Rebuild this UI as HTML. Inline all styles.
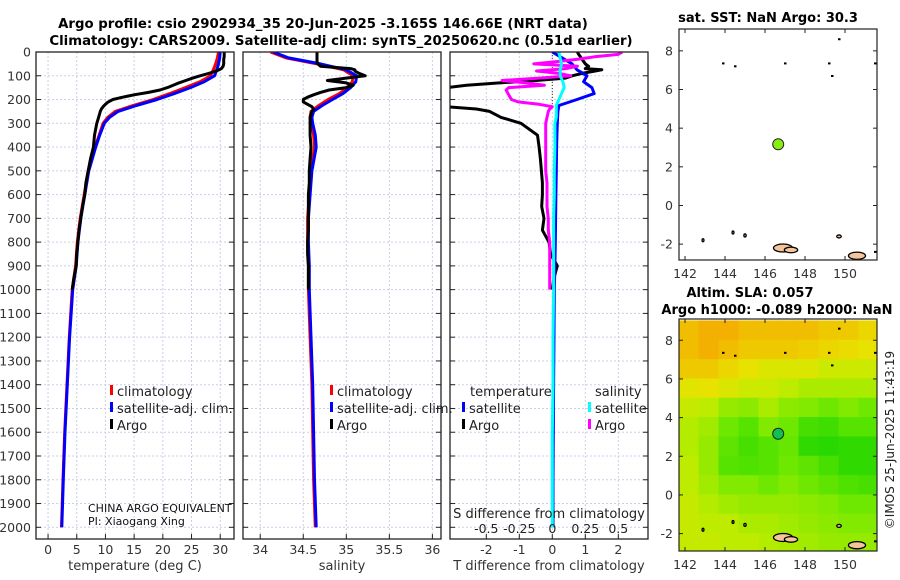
<!DOCTYPE html>
<html><head><meta charset="utf-8"><style>
html,body{margin:0;padding:0;background:#fff;}
svg{display:block;font-family:"DejaVu Sans","Liberation Sans",sans-serif;}
</style></head><body>
<svg id="fig" width="900" height="580" viewBox="0 0 900 580" xmlns="http://www.w3.org/2000/svg">
<text x="323" y="28" text-anchor="middle" font-size="13.3" font-weight="bold">Argo profile: csio 2902934_35 20-Jun-2025 -3.165S 146.66E (NRT data)</text>
<text x="341" y="45" text-anchor="middle" font-size="13.3" font-weight="bold">Climatology: CARS2009. Satellite-adj clim: synTS_20250620.nc (0.51d earlier)</text>
<text x="768" y="22" text-anchor="middle" font-size="13" font-weight="bold">sat. SST: NaN Argo: 30.3</text>
<text x="750" y="297" text-anchor="middle" font-size="13" font-weight="bold">Altim. SLA: 0.057</text>
<text x="777" y="314" text-anchor="middle" font-size="13" font-weight="bold">Argo h1000: -0.089 h2000: NaN</text>
<text transform="translate(894,440) rotate(-90)" text-anchor="middle" font-size="12" fill="#222">©IMOS 25-Jun-2025 11:43:19</text>
<g id="g"></g>
</svg>
<script>
// ---- data ----
const depthsClim = [0,25,50,75,100,125,150,175,200,225,250,275,300,350,400,500,600,700,800,900,1000,1200,1400,1600,1800,2000];
const tempClim   = [29.7,29.5,29.2,28.8,28.3,26.5,23.9,21.2,18.3,14.8,11.7,10.4,9.6,8.9,8.2,7.0,6.3,5.6,5.1,4.8,4.2,3.7,3.3,2.9,2.6,2.35];
const tempSat    = [30.0,29.9,29.7,29.4,29.0,27.2,24.8,22.0,19.0,15.4,12.2,10.7,9.8,9.0,8.3,7.1,6.4,5.7,5.2,4.9,4.3,3.75,3.35,2.95,2.65,2.4];
const depthsArgo = [0,10,20,30,40,50,60,70,75,80,90,100,110,120,130,140,150,160,170,180,190,200,210,220,230,240,250,275,300,350,400,450,500,550,600,650,700,750,800,850,900,950,1000];
const tempArgo   = [30.7,30.7,30.7,30.6,30.6,30.6,30.5,30.2,29.8,29.3,28.0,26.5,25.2,24.0,22.8,21.8,20.8,19.5,17.5,15.0,13.0,11.3,10.5,10.0,9.6,9.3,9.1,8.8,8.5,8.1,7.9,7.4,7.0,6.6,6.4,6.0,5.7,5.4,5.2,5.0,4.9,4.5,4.2];
const salClim    = [34.12,34.3,34.66,34.97,35.08,35.07,35.01,34.92,34.79,34.68,34.59,34.58,34.6,34.62,34.63,34.59,34.57,34.55,34.55,34.56,34.56,34.58,34.6,34.61,34.62,34.64];
const salSat     = [34.15,34.33,34.7,35.0,35.12,35.11,35.05,34.96,34.84,34.72,34.62,34.6,34.61,34.64,34.65,34.6,34.58,34.56,34.56,34.57,34.57,34.59,34.61,34.62,34.63,34.65];
const salArgo    = [34.66,34.66,34.66,34.66,34.66,34.67,34.7,35.05,35.1,35.1,35.15,35.22,35.0,34.78,35.0,35.08,35.0,34.8,34.7,34.62,34.55,34.5,34.5,34.55,34.6,34.62,34.6,34.58,34.58,34.58,34.59,34.58,34.57,34.57,34.56,34.56,34.56,34.56,34.55,34.55,34.56,34.56,34.56];
const dTArgo     = [0.76,0.8,0.85,0.9,0.95,1.0,1.1,1.0,1.5,1.3,0.9,0.6,0.4,-0.5,-1.6,-2.6,-3.2,-3.5,-3.5,-3.5,-3.5,-3.5,-3.5,-3.5,-3.2,-2.3,-1.9,-1.55,-0.95,-0.45,-0.4,-0.36,-0.33,-0.3,-0.3,-0.32,-0.25,-0.3,-0.1,-0.05,0.15,0.05,0.0];
const dSArgo     = [0.53,0.5,0.32,0.2,0.04,-0.14,0.19,0.1,0.0,-0.12,0.05,0.14,-0.1,-0.38,-0.2,-0.06,-0.33,-0.35,-0.34,-0.33,-0.32,-0.31,-0.26,-0.1,0.0,-0.02,-0.03,-0.04,-0.05,-0.05,-0.05,-0.05,-0.05,-0.04,-0.04,-0.04,-0.03,-0.03,-0.02,-0.02,-0.02,-0.02,-0.02];
const dTSat      = [0.0,0.3,0.6,0.75,1.05,0.95,1.2,1.27,0.75,0.2,0.17,0.16,0.15,0.14,0.13,0.12,0.11,0.1,0.09,0.08,0.06,0.05,0.04,0.03,0.02,0.02];
const dSSat      = [0.05,0.06,0.07,0.06,0.06,0.08,0.09,0.07,0.05,0.03,0.03,0.03,0.02,0.02,0.02,0.015,0.015,0.01,0.01,0.01,0.01,0.005,0.005,0.0,0.0,0.0];
const depthTicks = [0,100,200,300,400,500,600,700,800,900,1000,1100,1200,1300,1400,1500,1600,1700,1800,1900,2000];
const tempTicks = [0,5,10,15,20,25,30];
const salTicks = [34,34.5,35,35.5,36];
const salTickLabels = ["34","34.5","35","35.5","36"];
const dTTicks = [-2,-1,0,1,2];
const dSTicks = [-0.5,-0.25,0,0.25,0.5];
const dSTickLabels = ["-0.5","-0.25","0","0.25","0.5"];
const lonTicks = [142,144,146,148,150];
const latTicks = [-2,0,2,4,6,8];
const argoLon = 146.66, argoLat = 3.165;
const slaGrid = [
[0.2,0.22,0.22,0.2,0.2,0.2,0.2,0.18,0.18,0.16],
[0.2,0.22,0.2,0.18,0.18,0.18,0.17,0.16,0.15,0.14],
[0.18,0.18,0.16,0.14,0.12,0.12,0.12,0.1,0.1,0.1],
[0.13,0.14,0.12,0.1,0.1,0.08,0.06,0.06,0.06,0.06],
[0.09,0.08,0.04,0.03,0.06,0.03,0.02,0.0,0.02,0.0],
[0.07,0.05,0.0,-0.03,0.02,0.0,-0.05,-0.06,-0.03,-0.03],
[0.07,0.04,-0.02,-0.05,-0.03,-0.01,-0.08,-0.09,-0.08,-0.08],
[0.08,0.04,-0.03,-0.04,-0.03,0.0,-0.02,-0.05,-0.08,-0.08],
[0.08,0.05,0.02,0.02,0.0,0.02,0.0,-0.02,-0.04,-0.05],
[0.09,0.07,0.05,0.04,0.04,0.04,0.03,0.02,0.0,0.0],
[0.09,0.08,0.08,0.06,0.06,0.05,0.04,0.03,0.02,0.02],
[0.09,0.09,0.08,0.08,0.07,0.06,0.05,0.04,0.04,0.04]];
const islandsLon = [146.9,147.3,150.6,149.7,145.0,142.9,144.4];
const islandsLat = [-2.2,-2.3,-2.6,-1.6,-1.55,-1.8,-1.4];
const islandsR   = [0.5,0.35,0.45,0.12,0.06,0.05,0.05];
const reefLon = [143.9,144.5,147.0,149.2,149.35,149.7,151.5,151.5];
const reefLat = [7.35,7.2,7.35,7.35,6.7,8.6,7.35,-2.4];

// ---- helpers ----
const NS="http://www.w3.org/2000/svg";
const G=document.getElementById('g');
function el(tag,attrs,parent){const e=document.createElementNS(NS,tag);for(const k in attrs)e.setAttribute(k,attrs[k]);(parent||G).appendChild(e);return e;}
const yTop=52, yBot=539;
const yD=d=>yTop+d*0.23765;
function panel(x0,x1,xmin,xmax,name){
  const sx=v=>x0+(v-xmin)/(xmax-xmin)*(x1-x0);
  const g=el('g',{});
  
  
  return {sx,g,x0,x1};
}
function grid(p,xt){
  depthTicks.forEach(d=>{const l=el('line',{x1:p.x0,x2:p.x1,y1:yD(d),y2:yD(d),stroke:'#c9cfe9','stroke-width':1,'stroke-dasharray':'2,2'},p.g);
    });
  xt.forEach(v=>{const l=el('line',{x1:p.sx(v),x2:p.sx(v),y1:yTop,y2:yBot,stroke:'#c9cfe9','stroke-width':1,'stroke-dasharray':'2,2'},p.g);
    });
}
function frame(p,xt,labels,xlabel){
  const r=el('rect',{x:p.x0,y:yTop,width:p.x1-p.x0,height:yBot-yTop,fill:'none',stroke:'#222','stroke-width':1.3},p.g);
  
  depthTicks.forEach(d=>{el('line',{x1:p.x0,x2:p.x0+5,y1:yD(d),y2:yD(d),stroke:'#222'},p.g);el('line',{x1:p.x1-5,x2:p.x1,y1:yD(d),y2:yD(d),stroke:'#222'},p.g);});
  xt.forEach((v,i)=>{el('line',{x1:p.sx(v),x2:p.sx(v),y1:yBot-5,y2:yBot,stroke:'#222'},p.g);
    const t=el('text',{x:p.sx(v),y:yBot+15,'text-anchor':'middle','font-size':12.5,fill:'#333'},p.g);t.textContent=labels[i];
    });
  const t=el('text',{x:(p.x0+p.x1)/2,y:570,'text-anchor':'middle','font-size':13,fill:'#333'},p.g);t.textContent=xlabel;
  
}
function line(p,ds,vals,color,w,name,clipId){
  const pts=ds.map((d,i)=>p.sx(vals[i]).toFixed(1)+','+yD(d).toFixed(1)).join(' ');
  const l=el('polyline',{points:pts,fill:'none',stroke:color,'stroke-width':w,'stroke-linejoin':'round','clip-path':'url(#'+clipId+')'},p.g);
  
}
function clip(id,p){const c=el('clipPath',{id:id});el('rect',{x:p.x0,y:yTop,width:p.x1-p.x0,height:yBot-yTop},c);}
function legendEntry(x,y,color,label,g){
  el('rect',{x:x,y:y-11,width:3,height:10,fill:color},g);
  const t=el('text',{x:x+7,y:y,'font-size':13,fill:'#222'},g);t.textContent=label;
  
}

depthTicks.forEach(d=>{const t=el('text',{x:31,y:yD(d)+4.5,'text-anchor':'end','font-size':12.5,fill:'#333'});t.textContent=d;
  });

const p1=panel(36,234,-2.1,32.4,'temperature-panel');
clip('c1',p1);grid(p1,tempTicks);
line(p1,depthsClim,tempClim,'#f00',3,'climatology-temp-line','c1');
line(p1,depthsClim,tempSat,'#00f',3,'satellite-temp-line','c1');
line(p1,depthsArgo,tempArgo,'#000',3,'argo-temp-line','c1');
frame(p1,tempTicks,tempTicks.map(String),'temperature (deg C)');
legendEntry(110,396,'#f00','climatology',p1.g);legendEntry(110,413,'#00f','satellite-adj. clim.',p1.g);legendEntry(110,430,'#000','Argo',p1.g);
let t=el('text',{x:88,y:512,'font-size':11,fill:'#111'},p1.g);t.textContent='CHINA ARGO EQUIVALENT';
t=el('text',{x:88,y:525,'font-size':11,fill:'#111'},p1.g);t.textContent='PI: Xiaogang Xing';

const p2=panel(243,441,33.8,36.1,'salinity-panel');
clip('c2',p2);grid(p2,salTicks);
line(p2,depthsClim,salClim,'#f00',3,'climatology-sal-line','c2');
line(p2,depthsClim,salSat,'#00f',3,'satellite-sal-line','c2');
line(p2,depthsArgo,salArgo,'#000',3,'argo-sal-line','c2');
frame(p2,salTicks,salTickLabels,'salinity');
legendEntry(330,396,'#f00','climatology',p2.g);legendEntry(330,413,'#00f','satellite-adj. clim.',p2.g);legendEntry(330,430,'#000','Argo',p2.g);

const p3=panel(450,648,-3.1,2.9,'difference-panel');
clip('c3',p3);grid(p3,dTTicks);
const p3s={sx:v=>p3.sx(v*4),g:p3.g,x0:p3.x0,x1:p3.x1};
el('line',{x1:p3.sx(0),x2:p3.sx(0),y1:yTop,y2:yD(220),stroke:'#333','stroke-dasharray':'1,2'},p3.g);
line(p3,depthsArgo,dTArgo,'#000',3,'argo-temp-diff-line','c3');
line(p3,depthsClim,dTSat,'#00f',3,'satellite-temp-diff-line','c3');
line(p3s,depthsArgo,dSArgo,'#f0f',3,'argo-sal-diff-line','c3');
line(p3s,depthsClim,dSSat,'#0ff',3,'satellite-sal-diff-line','c3');
frame(p3,dTTicks,dTTicks.map(String),'T difference from climatology');
t=el('text',{x:470,y:396,'font-size':13,fill:'#222'},p3.g);t.textContent='temperature';
t=el('text',{x:595,y:396,'font-size':13,fill:'#222'},p3.g);t.textContent='salinity';
legendEntry(462,413,'#00f','satellite',p3.g);legendEntry(462,430,'#000','Argo',p3.g);
legendEntry(588,413,'#0ff','satellite',p3.g);legendEntry(588,430,'#f0f','Argo',p3.g);
t=el('text',{x:549,y:518,'text-anchor':'middle','font-size':13,fill:'#222'},p3.g);t.textContent='S difference from climatology';
dSTicks.forEach((v,i)=>{const tt=el('text',{x:p3s.sx(v),y:533,'text-anchor':'middle','font-size':12.5,fill:'#222'},p3.g);tt.textContent=dSTickLabels[i];
  });

function map(y0,y1,latTop,latBot,name,heat){
  const x0=679,x1=877,lonMin=141.7,lonMax=151.6;
  const sx=v=>x0+(v-lonMin)/(lonMax-lonMin)*(x1-x0);
  const sy=v=>y0+(latTop-v)/(latTop-latBot)*(y1-y0);
  const g=el('g',{});
  const cid='cm'+y0;const c=el('clipPath',{id:cid});el('rect',{x:x0,y:y0,width:x1-x0,height:y1-y0},c);
  const inner=el('g',{'clip-path':'url(#'+cid+')'},g);
  if(heat){
    const cols=[[-0.1,[32,214,0]],[0.0,[110,232,0]],[0.08,[190,236,0]],[0.14,[232,226,0]],[0.22,[244,176,0]]];
    const col=v=>{for(let i=0;i<cols.length-1;i++){const a=cols[i],b=cols[i+1];if(v<=b[0]||i==cols.length-2){let f=Math.max(0,Math.min(1,(v-a[0])/(b[0]-a[0])));return 'rgb('+a[1].map((c,k)=>Math.round(c+f*(b[1][k]-c))).join(',')+')';}}};
    slaGrid.forEach((row,r)=>row.forEach((v,ci)=>{
      const cell=el('rect',{x:sx(lonMin+ci)-0.5,y:sy(9-r)-0.5,width:sx(lonMin+ci+1)-sx(lonMin+ci)+1,height:sy(8-r)-sy(9-r)+1,fill:col(v)},inner);
      
    }));
  }
  reefLon.forEach((lo,i)=>{const d=el('rect',{x:sx(lo)-1,y:sy(reefLat[i])-1,width:2.5,height:2,fill:'#000'},inner);
    });
  islandsLon.forEach((lo,i)=>{const s=el('ellipse',{cx:sx(lo),cy:sy(islandsLat[i]),rx:islandsR[i]*19,ry:Math.max(1.5,islandsR[i]*8),fill:'#f5c49a',stroke:'#000','stroke-width':1.3},inner);
    });
  const m=el('circle',{cx:sx(argoLon),cy:sy(argoLat),r:5.5,fill:heat?'#10c050':'#88ee10',stroke:'#222','stroke-width':1},inner);
  
  el('rect',{x:x0,y:y0,width:x1-x0,height:y1-y0,fill:'none',stroke:'#222','stroke-width':1.2},g);
  lonTicks.forEach(v=>{el('line',{x1:sx(v),x2:sx(v),y1:y1,y2:y1-4,stroke:'#222'},g);el('line',{x1:sx(v),x2:sx(v),y1:y0,y2:y0+4,stroke:'#222'},g);
    const tt=el('text',{x:sx(v),y:y1+18,'text-anchor':'middle','font-size':12.5,fill:'#333'},g);tt.textContent=v;});
  latTicks.forEach(v=>{el('line',{x1:x0,x2:x0+4,y1:sy(v),y2:sy(v),stroke:'#222'},g);el('line',{x1:x1,x2:x1-4,y1:sy(v),y2:sy(v),stroke:'#222'},g);
    const tt=el('text',{x:673,y:sy(v)+4.5,'text-anchor':'end','font-size':12.5,fill:'#333'},g);tt.textContent=v;});
}
map(29,260,9.13,-2.82,'sst-map',false);
map(319,551,9.1,-2.9,'sla-map',true);
</script>
</body></html>
